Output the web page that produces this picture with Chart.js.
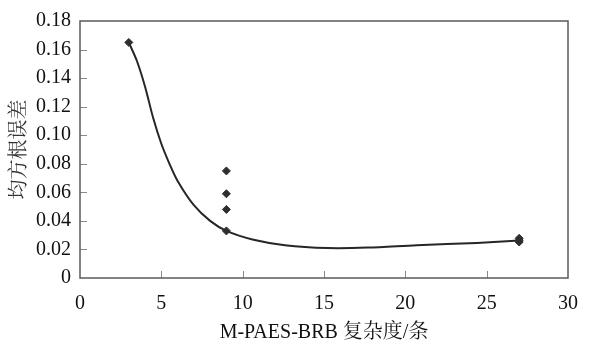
<!DOCTYPE html>
<html>
<head>
<meta charset="utf-8">
<script src="https://cdn.jsdelivr.net/npm/chart.js@4/dist/chart.umd.min.js"></script>
<style>
  html, body { margin: 0; padding: 0; background: #fff; }
  #wrap { width: 592px; height: 347px; }
</style>
</head>
<body>
<div id="wrap"><canvas id="c" width="592" height="347"></canvas></div>
<script>
// Measured RMSE for each M-PAES-BRB complexity (rule count)
const sampleX = [3, 9, 9, 9, 9, 27, 27, 27];
const sampleY = [0.165, 0.075, 0.059, 0.048, 0.033, 0.0278, 0.0265, 0.0252];

// Fitted trend curve
const fitX = [3, 3.5, 4, 4.5, 5, 5.5, 6, 7, 8, 9, 10.6, 12.6, 15.2, 17.7, 20.7, 24.4, 27];
const fitY = [0.165, 0.152, 0.134, 0.112, 0.094, 0.080, 0.068, 0.051, 0.040, 0.033, 0.027, 0.023, 0.021, 0.0213, 0.023, 0.0246, 0.0262];

const xTicks = [0, 5, 10, 15, 20, 25, 30];
const yTicks = [0, 0.02, 0.04, 0.06, 0.08, 0.10, 0.12, 0.14, 0.16, 0.18];

const xTitle = 'M-PAES-BRB 复杂度/条';
const yTitle = '均方根误差';

const serif = '"Liberation Serif", "Times New Roman", "Noto Serif CJK SC", "Noto Sans CJK SC", serif';

// Frame around the plot area plus inward-pointing tick marks
const framePlugin = {
  id: 'frame',
  afterDatasetsDraw(chart) {
    const { ctx, chartArea: a, scales } = chart;
    ctx.save();
    ctx.strokeStyle = '#8a8a8a';
    ctx.lineWidth = 1;
    const len = 7;
    ctx.beginPath();
    xTicks.forEach(v => {
      if (v === xTicks[0] || v === xTicks[xTicks.length - 1]) return;
      const px = Math.round(scales.x.getPixelForValue(v)) + 0.5;
      ctx.moveTo(px, a.bottom);
      ctx.lineTo(px, a.bottom - len);
    });
    yTicks.forEach(v => {
      if (v === yTicks[0] || v === yTicks[yTicks.length - 1]) return;
      const py = Math.round(scales.y.getPixelForValue(v)) + 0.5;
      ctx.moveTo(a.left, py);
      ctx.lineTo(a.left + len, py);
    });
    ctx.stroke();
    ctx.strokeStyle = '#5a5a5a';
    ctx.lineWidth = 1.5;
    ctx.strokeRect(a.left, a.top, a.right - a.left, a.bottom - a.top);
    ctx.restore();
  }
};

new Chart(document.getElementById('c'), {
  type: 'scatter',
  data: {
    datasets: [
      {
        label: 'fit',
        data: fitX.map((x, i) => ({ x, y: fitY[i] })),
        showLine: true,
        borderColor: '#262626',
        borderWidth: 2,
        pointRadius: 0,
        tension: 0.3,
        fill: false,
        order: 2
      },
      {
        label: 'samples',
        data: sampleX.map((x, i) => ({ x, y: sampleY[i] })),
        showLine: false,
        pointStyle: 'rectRot',
        pointRadius: 4,
        pointBackgroundColor: '#2e2e2e',
        pointBorderColor: '#2e2e2e',
        pointBorderWidth: 1,
        order: 1
      }
    ]
  },
  options: {
    responsive: false,
    animation: false,
    devicePixelRatio: 1,
    layout: { padding: { top: 14, right: 20, left: 0, bottom: 0 } },
    plugins: { legend: { display: false }, tooltip: { enabled: false } },
    scales: {
      x: {
        type: 'linear',
        min: 0, max: 30,
        afterBuildTicks(s) { s.ticks = xTicks.map(v => ({ value: v })); },
        afterFit(s) { s.height = 69; },
        grid: { display: false, drawTicks: false },
        border: { display: false },
        ticks: {
          padding: 14,
          color: '#111',
          font: { family: serif, size: 20 },
          callback: v => String(v),
          maxRotation: 0
        },
        title: {
          display: true,
          text: xTitle,
          color: '#111',
          font: { family: serif, size: 20 },
          padding: { top: 0, bottom: 2 }
        }
      },
      y: {
        type: 'linear',
        min: 0, max: 0.18,
        afterBuildTicks(s) { s.ticks = yTicks.map(v => ({ value: v })); },
        afterFit(s) { s.width = 80; },
        grid: { display: false, drawTicks: false },
        border: { display: false },
        ticks: {
          padding: 9,
          color: '#111',
          font: { family: serif, size: 20 },
          callback: v => (v === 0 ? '0' : Number(v).toFixed(2))
        },
        title: {
          display: true,
          text: yTitle,
          color: '#333',
          font: { family: serif, size: 20 },
          padding: { top: 8, bottom: 0 }
        }
      }
    }
  },
  plugins: [framePlugin]
});
</script>
</body>
</html>
